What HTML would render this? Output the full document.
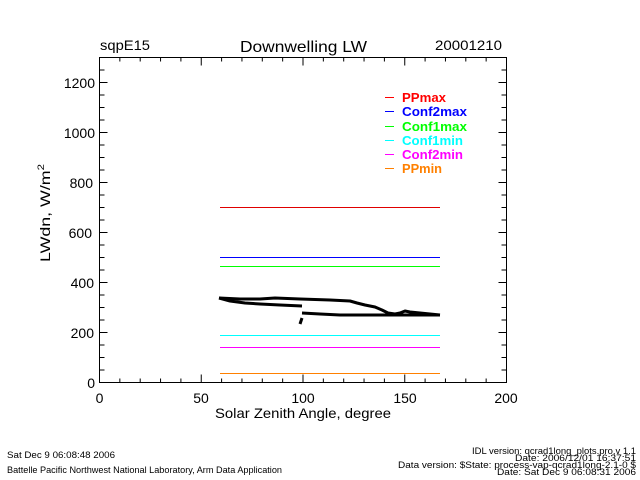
<!DOCTYPE html>
<html>
<head>
<meta charset="utf-8">
<style>
html,body{margin:0;padding:0;background:#fff;}
svg{display:block;}
text{font-family:"Liberation Sans",sans-serif;fill:#000;}
</style>
</head>
<body>
<svg width="640" height="480" viewBox="0 0 640 480" xmlns="http://www.w3.org/2000/svg">
<rect width="640" height="480" fill="#fff"/>

<!-- headers -->
<text x="100" y="50" font-size="14" textLength="50" lengthAdjust="spacingAndGlyphs">sqpE15</text>
<text x="240" y="52" font-size="16" textLength="127" lengthAdjust="spacingAndGlyphs">Downwelling LW</text>
<text x="435" y="50" font-size="14" textLength="67" lengthAdjust="spacingAndGlyphs">20001210</text>

<!-- axes box -->
<rect x="99.5" y="57.5" width="407" height="325" fill="none" stroke="#000" stroke-width="1"/>

<g stroke="#000" stroke-width="1">
<path d="
M99.5 382.5 v-8 M119.85 382.5 v-4 M140.2 382.5 v-4 M160.55 382.5 v-4 M180.9 382.5 v-4
M201.25 382.5 v-8 M221.6 382.5 v-4 M241.95 382.5 v-4 M262.3 382.5 v-4 M282.65 382.5 v-4
M303 382.5 v-8 M323.35 382.5 v-4 M343.7 382.5 v-4 M364.05 382.5 v-4 M384.4 382.5 v-4
M404.75 382.5 v-8 M425.1 382.5 v-4 M445.45 382.5 v-4 M465.8 382.5 v-4 M486.15 382.5 v-4
M506.5 382.5 v-8
M99.5 57.5 v8 M119.85 57.5 v4 M140.2 57.5 v4 M160.55 57.5 v4 M180.9 57.5 v4
M201.25 57.5 v8 M221.6 57.5 v4 M241.95 57.5 v4 M262.3 57.5 v4 M282.65 57.5 v4
M303 57.5 v8 M323.35 57.5 v4 M343.7 57.5 v4 M364.05 57.5 v4 M384.4 57.5 v4
M404.75 57.5 v8 M425.1 57.5 v4 M445.45 57.5 v4 M465.8 57.5 v4 M486.15 57.5 v4
M506.5 57.5 v8
"/>
<path d="
M99.5 382.5 h8 M99.5 370 h5 M99.5 357.5 h5 M99.5 345 h5
M99.5 332.5 h8 M99.5 320 h5 M99.5 307.5 h5 M99.5 295 h5
M99.5 282.5 h8 M99.5 270 h5 M99.5 257.5 h5 M99.5 245 h5
M99.5 232.5 h8 M99.5 220 h5 M99.5 207.5 h5 M99.5 195 h5
M99.5 182.5 h8 M99.5 170 h5 M99.5 157.5 h5 M99.5 145 h5
M99.5 132.5 h8 M99.5 120 h5 M99.5 107.5 h5 M99.5 95 h5
M99.5 82.5 h8 M99.5 70 h5
M506.5 382.5 h-8 M506.5 370 h-5 M506.5 357.5 h-5 M506.5 345 h-5
M506.5 332.5 h-8 M506.5 320 h-5 M506.5 307.5 h-5 M506.5 295 h-5
M506.5 282.5 h-8 M506.5 270 h-5 M506.5 257.5 h-5 M506.5 245 h-5
M506.5 232.5 h-8 M506.5 220 h-5 M506.5 207.5 h-5 M506.5 195 h-5
M506.5 182.5 h-8 M506.5 170 h-5 M506.5 157.5 h-5 M506.5 145 h-5
M506.5 132.5 h-8 M506.5 120 h-5 M506.5 107.5 h-5 M506.5 95 h-5
M506.5 82.5 h-8 M506.5 70 h-5
"/>
</g>

<!-- y tick labels -->
<g font-size="14" text-anchor="end">
<text x="95" y="388">0</text>
<text x="94" y="338">200</text>
<text x="94" y="288">400</text>
<text x="92" y="238">600</text>
<text x="93" y="188">800</text>
<text x="95" y="138">1000</text>
<text x="95" y="88">1200</text>
</g>

<!-- x tick labels -->
<g font-size="14" text-anchor="middle">
<text x="99.5" y="403">0</text>
<text x="201" y="403">50</text>
<text x="303" y="403">100</text>
<text x="405" y="403">150</text>
<text x="506" y="403">200</text>
</g>
<text x="215" y="418" font-size="14" textLength="176" lengthAdjust="spacingAndGlyphs">Solar Zenith Angle, degree</text>

<!-- y axis title -->
<text transform="translate(50,262) rotate(-90)" font-size="14" textLength="98" lengthAdjust="spacingAndGlyphs">LWdn, W/m<tspan font-size="9" dy="-6">2</tspan></text>

<!-- threshold lines -->
<g stroke-width="1">
<line x1="220" y1="207.5" x2="440" y2="207.5" stroke="#e00000"/>
<line x1="220" y1="257.5" x2="440" y2="257.5" stroke="#0000ff"/>
<line x1="220" y1="266.5" x2="440" y2="266.5" stroke="#00ff00"/>
<line x1="220" y1="335.5" x2="440" y2="335.5" stroke="#00ffff"/>
<line x1="220" y1="347.5" x2="440" y2="347.5" stroke="#ff00ff"/>
<line x1="220" y1="373.5" x2="440" y2="373.5" stroke="#ff8000"/>
</g>

<!-- data -->
<g fill="none" stroke="#000" stroke-width="3" stroke-linejoin="round">
<polyline points="219,298 240,299 260,299 275,298 300,299 330,300 350,301 357,303 365,305 375,307 382,310 388,313 395,314 400,313 405,311 410,312 420,313 440,315"/>
<polyline points="219,298 230,301 245,303 260,304 280,305 302,306"/>
<polyline points="302,313 320,314 340,315 360,315 380,315 395,315 440,315"/>
<polyline points="302,318 300,324"/>
</g>

<!-- legend -->
<g stroke-width="1">
<line x1="385" y1="97.5" x2="394" y2="97.5" stroke="#ff0000"/>
<line x1="385" y1="111.5" x2="394" y2="111.5" stroke="#0000ff"/>
<line x1="385" y1="126.5" x2="394" y2="126.5" stroke="#00ff00"/>
<line x1="385" y1="140.5" x2="394" y2="140.5" stroke="#00ffff"/>
<line x1="385" y1="154.5" x2="394" y2="154.5" stroke="#ff00ff"/>
<line x1="385" y1="168.5" x2="394" y2="168.5" stroke="#ff8000"/>
</g>
<g font-size="13" font-weight="bold">
<text x="402" y="102" style="fill:#ff0000" textLength="44" lengthAdjust="spacingAndGlyphs">PPmax</text>
<text x="402" y="116" style="fill:#0000ff" textLength="65" lengthAdjust="spacingAndGlyphs">Conf2max</text>
<text x="402" y="131" style="fill:#00ff00" textLength="65" lengthAdjust="spacingAndGlyphs">Conf1max</text>
<text x="402" y="145" style="fill:#00ffff" textLength="61" lengthAdjust="spacingAndGlyphs">Conf1min</text>
<text x="402" y="159" style="fill:#ff00ff" textLength="61" lengthAdjust="spacingAndGlyphs">Conf2min</text>
<text x="402" y="173" style="fill:#ff8000" textLength="40" lengthAdjust="spacingAndGlyphs">PPmin</text>
</g>

<!-- footer -->
<g font-size="9">
<text x="7" y="458" textLength="108" lengthAdjust="spacingAndGlyphs">Sat Dec  9 06:08:48 2006</text>
<text x="7" y="473" textLength="275" lengthAdjust="spacingAndGlyphs">Battelle Pacific Northwest National Laboratory, Arm Data Application</text>
<text x="472" y="454" textLength="164" lengthAdjust="spacingAndGlyphs">IDL version: qcrad1long_plots.pro,v 1.1</text>
<text x="515" y="461" textLength="121" lengthAdjust="spacingAndGlyphs">Date: 2006/12/01 16:37:51</text>
<text x="398" y="468" textLength="238" lengthAdjust="spacingAndGlyphs">Data version: $State: process-vap-qcrad1long-2.1-0 $</text>
<text x="497" y="475" textLength="139" lengthAdjust="spacingAndGlyphs">Date: Sat Dec  9 06:08:31 2006</text>
</g>
</svg>
</body>
</html>
